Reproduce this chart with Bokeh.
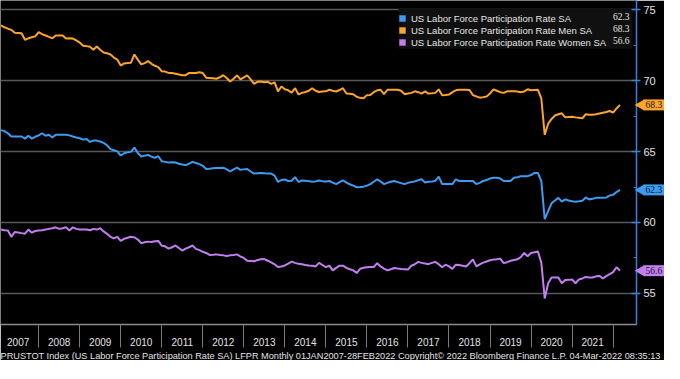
import math
import pandas as pd
from bokeh.plotting import figure
from bokeh.models import Range1d, FixedTicker, Legend, LegendItem, Title, BoxAnnotation
from bokeh.embed import file_html
from bokeh.resources import INLINE

# ---------------- data ----------------
periods = pd.period_range("2007-01", "2022-02", freq="M")

total = [
    66.52, 66.45, 66.3, 66.07, 66.07, 66.07, 66.07, 65.92, 66.12, 65.92, 66.05, 66.15,
    66.3, 66.12, 66.19, 66.0, 66.19, 66.19, 66.19, 66.19, 66.15, 66.07, 66.0, 65.95,
    65.85, 65.9, 65.69, 65.78, 65.78, 65.72, 65.62, 65.45, 65.18, 65.1, 65.02, 64.73,
    64.89, 64.95, 65.0, 65.29, 64.9, 64.66, 64.72, 64.77, 64.65, 64.57, 64.68, 64.32,
    64.28, 64.23, 64.25, 64.23, 64.15, 64.1, 64.05, 64.15, 64.28, 64.2, 64.12, 64.0,
    63.78, 63.8, 63.83, 63.85, 63.85, 63.87, 63.75, 63.6, 63.75, 63.87, 63.72, 63.75,
    63.78, 63.6, 63.45, 63.48, 63.5, 63.48, 63.45, 63.45, 63.31, 62.86, 63.0, 63.04,
    62.93, 62.95, 63.2, 62.86, 62.97, 62.95, 62.92, 62.88, 62.9, 62.97, 62.92, 62.9,
    62.93, 62.82, 62.71, 62.85, 62.98, 62.82, 62.7, 62.6, 62.49, 62.5, 62.53, 62.6,
    62.71, 62.88, 63.05, 62.9, 62.71, 62.8, 62.88, 62.93, 62.85, 62.78, 62.71, 62.8,
    62.85, 62.9, 62.98, 63.05, 62.82, 62.88, 62.9, 62.93, 63.23, 62.71, 62.71, 62.71,
    62.71, 63.05, 62.93, 62.93, 62.93, 62.93, 62.93, 62.71, 62.8, 62.93, 63.0, 63.1,
    63.16, 63.16, 63.1, 62.93, 62.93, 62.93, 63.16, 63.2, 63.27, 63.27, 63.27, 63.35,
    63.5, 63.5, 62.93, 60.24, 60.8, 61.36, 61.55, 61.74, 61.47, 61.63, 61.55, 61.5,
    61.47, 61.5, 61.54, 61.77, 61.63, 61.68, 61.74, 61.74, 61.75, 61.77, 61.9, 61.95,
    62.15, 62.3,
]

men = [
    73.92, 73.78, 73.68, 73.6, 73.4, 73.38, 73.36, 72.9, 73.0, 73.07, 73.14, 73.43,
    73.3, 73.2, 73.1, 73.0, 73.2, 73.2, 73.2, 72.98, 73.0, 72.98, 72.85, 72.7,
    72.47, 72.45, 72.4, 72.2, 72.42, 72.2, 72.0, 71.95, 71.86, 71.64, 71.5, 71.08,
    71.23, 71.25, 71.28, 71.86, 71.5, 71.16, 71.25, 71.39, 71.2, 71.06, 70.97, 70.67,
    70.65, 70.56, 70.55, 70.5, 70.45, 70.4, 70.4, 70.56, 70.55, 70.55, 70.6, 70.55,
    70.22, 70.2, 70.18, 70.15, 70.25, 70.4, 70.2, 69.95, 70.15, 70.38, 70.11, 70.25,
    70.38, 70.1, 69.78, 69.93, 69.95, 69.9, 69.93, 69.78, 69.89, 69.26, 69.6, 69.4,
    69.33, 69.17, 69.48, 69.04, 69.15, 69.21, 69.3, 69.48, 69.3, 69.21, 69.25, 69.26,
    69.37, 69.3, 69.25, 69.35, 69.48, 69.1, 69.08, 69.05, 68.88, 68.8, 68.77, 68.99,
    69.0, 69.2, 69.33, 69.37, 69.06, 69.37, 69.37, 69.37, 69.37, 69.3, 69.06, 69.1,
    69.15, 69.26, 69.2, 69.1, 69.26, 69.1, 69.12, 69.15, 69.4, 68.99, 69.0, 69.03,
    69.2, 69.33, 69.37, 69.37, 69.37, 69.35, 68.99, 68.9, 68.81, 68.85, 68.9, 69.1,
    69.4, 69.3, 69.2, 69.15, 69.26, 69.26, 69.26, 69.25, 69.2, 69.25, 69.4, 69.33,
    69.35, 69.37, 68.77, 66.19, 66.97, 67.31, 67.55, 67.64, 67.71, 67.42, 67.45, 67.47,
    67.42, 67.4, 67.35, 67.64, 67.6, 67.6, 67.64, 67.7, 67.75, 67.8, 67.87, 67.75,
    68.05, 68.3,
]

women = [
    59.5, 59.45, 59.44, 58.99, 59.33, 59.3, 59.25, 59.21, 59.5, 59.28, 59.4, 59.43,
    59.45, 59.5, 59.55, 59.6, 59.66, 59.55, 59.6, 59.66, 59.44, 59.66, 59.55, 59.5,
    59.5, 59.5, 59.45, 59.55, 59.5, 59.6, 59.37, 59.2, 58.99, 58.88, 58.99, 58.7,
    58.85, 58.92, 58.99, 58.95, 58.8, 58.54, 58.6, 58.65, 58.62, 58.68, 58.7, 58.36,
    58.32, 58.16, 58.25, 58.38, 58.2, 58.02, 58.16, 58.25, 58.38, 58.14, 58.05, 57.93,
    57.85, 57.71, 57.72, 57.75, 57.7, 57.68, 57.64, 57.68, 57.7, 57.75, 57.6, 57.5,
    57.3, 57.28, 57.26, 57.35, 57.4, 57.42, 57.3, 57.19, 57.05, 56.86, 56.9, 56.97,
    57.1, 57.24, 57.15, 57.08, 57.05, 57.0, 56.97, 56.95, 56.9, 57.15, 57.0, 56.85,
    56.95, 56.62, 56.8, 56.95, 56.95, 56.8, 56.7, 56.62, 56.43, 56.73, 56.8, 56.84,
    56.85, 56.85, 57.13, 56.9, 56.75, 56.62, 56.7, 56.79, 56.75, 56.72, 56.7, 56.68,
    56.95, 57.05, 57.22, 57.15, 57.1, 57.06, 57.15, 57.22, 57.05, 56.84, 57.02, 56.9,
    56.73, 57.02, 57.0, 56.95, 56.9, 57.13, 57.4, 56.9, 57.05, 57.17, 57.25, 57.33,
    57.38, 57.4, 57.45, 57.13, 57.2, 57.3, 57.35, 57.4, 57.56, 57.85, 57.62, 57.85,
    57.9, 57.96, 57.17, 54.64, 55.71, 56.12, 56.12, 56.12, 55.71, 55.94, 55.95, 55.98,
    55.71, 55.98, 56.05, 56.16, 56.12, 56.12, 56.2, 56.23, 56.05, 56.21, 56.35, 56.5,
    56.84, 56.6,
]

series_names = [
    "US Labor Force Participation Rate SA",
    "US Labor Force Participation Rate Men SA",
    "US Labor Force Participation Rate Women SA",
]
year_labels = [str(y) for y in range(2007, 2022)]
y_ticks = [55, 60, 65, 70, 75]
y_minor = [57.5, 62.5, 67.5, 72.5]
footer = ("PRUSTOT Index (US Labor Force Participation Rate SA) LFPR  Monthly "
          "01JAN2007-28FEB2022 Copyright\u00a9 2022 Bloomberg Finance L.P. 04-Mar-2022 08:35:13")

# ---------------- styling ----------------
FONT = "Liberation Sans"
BLUE = "#3d9cf2"
ORANGE = "#fda42a"
PURPLE = "#c37ff0"
AXIS_BLUE = "#3b80d4"
TXT = "#e4e4e4"
GRID = "#585858"

# month-end positions in fractional years
x = [p.year + p.month / 12.0 for p in periods]

X0, X1 = 2007.07, 2022.57
Y0, Y1 = 52.8, 75.67
FW, FH = 636, 324
PPX = FW / (X1 - X0)   # pixels per year
PPY = FH / (Y1 - Y0)   # pixels per percentage point

p = figure(frame_width=FW, frame_height=FH,
           x_range=Range1d(X0, X1), y_range=Range1d(Y0, Y1),
           y_axis_location="right",
           output_backend="svg", toolbar_location=None,
           background_fill_color="black", border_fill_color="black",
           outline_line_color=None,
           min_border_left=0, min_border_top=0, min_border_right=28, min_border_bottom=0)

# grid
p.xgrid.visible = False
p.ygrid.grid_line_color = GRID
p.ygrid.grid_line_width = 1.5

# x axis: separators at year boundaries (minor ticks), labels mid-year
xa = p.xaxis[0]
mid = [int(y) + 0.5 for y in year_labels]
xa.ticker = FixedTicker(ticks=mid, minor_ticks=list(range(2008, 2023)))
xa.major_label_overrides = {m: lab for m, lab in zip(mid, year_labels)}
xa.major_tick_line_color = None
xa.major_tick_in = 0
xa.major_tick_out = 0
xa.minor_tick_line_color = "#7a7a7a"
xa.minor_tick_in = 0
xa.minor_tick_out = 23
xa.axis_line_color = "#8a8a8a"
xa.axis_line_width = 1.5
xa.major_label_standoff = -10
xa.major_label_text_font = FONT
xa.major_label_text_font_size = "10px"
xa.major_label_text_color = TXT

# y axis on the right
ya = p.yaxis[0]
ya.ticker = FixedTicker(ticks=y_ticks, minor_ticks=y_minor)
ya.axis_line_color = AXIS_BLUE
ya.axis_line_width = 1.5
ya.major_tick_line_color = AXIS_BLUE
ya.major_tick_line_width = 1.5
ya.major_tick_in = 5
ya.major_tick_out = 4
ya.minor_tick_line_color = AXIS_BLUE
ya.minor_tick_in = 3
ya.minor_tick_out = 0
ya.major_label_standoff = 3
ya.major_label_text_font = FONT
ya.major_label_text_font_size = "11px"
ya.major_label_text_color = TXT

# series
p.line(x, men, line_color=ORANGE, line_width=2)
p.line(x, total, line_color=BLUE, line_width=2)
p.line(x, women, line_color=PURPLE, line_width=2)

# ---------------- legend ----------------
colors = [BLUE, ORANGE, PURPLE]
series = [total, men, women]
last_vals = [s[-1] for s in series]

TOP, RIGHT, PAD, ROWH = 8, 4, 2, 12
GLW, STAND, LABW = 8, 5, 217
LEG_W = 2 * PAD + GLW + STAND + LABW
LEG_H = 2 * PAD + 3 * ROWH
LEG_FONT = "9.5px"

# legend background box
p.add_layout(BoxAnnotation(left=X1 - (RIGHT + LEG_W) / PPX, right=X1 - RIGHT / PPX,
                           top=Y1 - TOP / PPY, bottom=Y1 - (TOP + LEG_H) / PPY,
                           fill_color="#101010", fill_alpha=1.0, line_color=None,
                           level="underlay"))

items = []
for name, c, v in zip(series_names, colors, last_vals):
    # zero-size proxy at the series' last point, used only for the legend key
    r = p.quad(left=[x[-1]], right=[x[-1]], top=[v], bottom=[v],
               fill_color=c, line_color=None)
    items.append(LegendItem(label=name, renderers=[r]))

legend = Legend(items=items, location=(FW - RIGHT - LEG_W, FH - TOP - LEG_H),
                margin=0, padding=PAD, spacing=0,
                glyph_width=GLW, glyph_height=GLW, label_height=ROWH,
                label_width=LABW, label_standoff=STAND,
                label_text_font=FONT, label_text_font_size=LEG_FONT,
                label_text_color=TXT, label_text_baseline="middle",
                background_fill_alpha=0.0, border_line_color=None)
p.add_layout(legend)

# values inside the legend, right aligned
leg_y = [Y1 - (TOP + PAD + ROWH * i + ROWH / 2) / PPY for i in range(3)]
p.text(x=[X1] * 3, y=leg_y, text=[f"{v:.1f}" for v in last_vals],
       x_offset=-(RIGHT + PAD + 1), text_align="right", text_baseline="middle",
       text_font=FONT, text_font_size=LEG_FONT, text_color=TXT, level="overlay")

# value badges on the right axis (overlay level -> not clipped to the frame)
tip_x = [X1 + 4.5 / PPX] * 3
p.scatter(x=tip_x, y=last_vals, marker="triangle", size=11, angle=math.pi / 2,
          fill_color=colors, line_color=None, level="overlay")
p.text(x=[X1] * 3, y=last_vals, text=[f"{v:.1f}" for v in last_vals],
       x_offset=7, text_align="left", text_baseline="middle",
       text_font=FONT, text_font_size="9.5px", text_color="#151515",
       background_fill_color=colors, background_fill_alpha=1.0,
       padding=2, level="overlay")

# footer
p.add_layout(Title(text=footer, align="left", text_font=FONT, text_font_size="9.2px",
                   text_font_style="normal", text_color=TXT, standoff=0, offset=0),
             "below")

open("out.html", "w").write(file_html(p, INLINE))
